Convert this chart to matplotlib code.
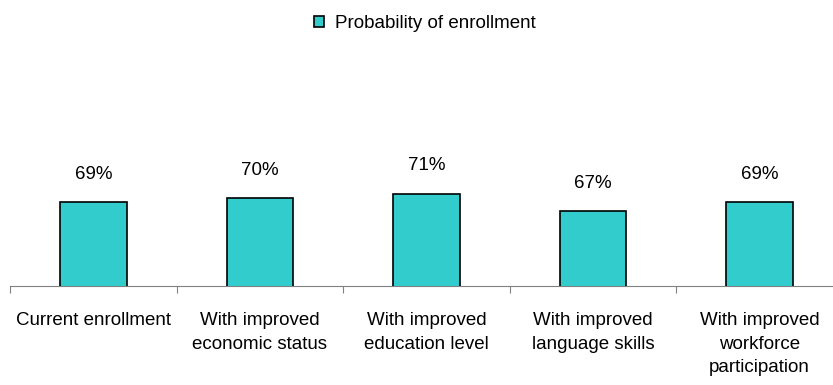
import numpy as np
import matplotlib
matplotlib.use("Agg")
from matplotlib import pyplot as plt
from matplotlib.patches import Patch

# data
categories = ["Current enrollment", "With improved\neconomic status", "With improved\neducation level",
              "With improved\nlanguage skills", "With improved\nworkforce\nparticipation"]
values = [69, 70, 71, 67, 69]
series_name = "Probability of enrollment"

plt.rcParams['font.family'] = ['Liberation Sans', 'DejaVu Sans']

fig = plt.figure(figsize=(8.33, 3.85), dpi=100)
ax = fig.add_axes([0.012, 0.257, 1.0, 0.572])

x = np.arange(len(values))
bars = ax.bar(x, values, width=0.4, color="#33CCCC", edgecolor="black", linewidth=1.2, zorder=3)
for b, v in zip(bars, values):
    ax.annotate(f"{v}%", (b.get_x() + b.get_width() / 2, v), xytext=(0, 14),
                textcoords="offset points", ha="center", va="bottom", fontsize=13.5)

ax.set_xlim(-0.5, len(values) - 0.5)
ax.set_ylim(50, 100)
for s in ["top", "left", "right"]:
    ax.spines[s].set_visible(False)
ax.spines["bottom"].set_color("#808080")
ax.set_yticks([])

# ticks between categories, labels centered on bars
ax.set_xticks(np.arange(len(values) + 1) - 0.5)
ax.set_xticklabels([])
ax.set_xticks(x, minor=True)
ax.set_xticklabels(categories, minor=True, fontsize=13.5, linespacing=1.48, va="top")
ax.tick_params(axis="x", which="major", length=5, color="#808080", direction="out")
ax.tick_params(axis="x", which="minor", length=0, pad=19)

handle = Patch(facecolor="#33CCCC", edgecolor="black", linewidth=1.2)
fig.legend([handle], [series_name], loc="upper center", bbox_to_anchor=(0.51, 1.005),
           frameon=False, fontsize=13.5, handlelength=0.55, handleheight=0.55, handletextpad=0.6)

fig.savefig("out.png", dpi=100)
